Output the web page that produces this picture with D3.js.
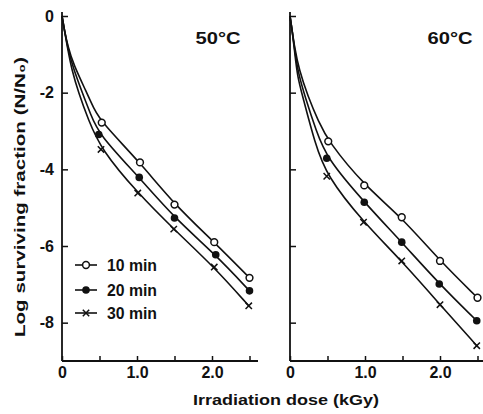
<!DOCTYPE html>
<html>
<head>
<meta charset="utf-8">
<script src="https://cdn.jsdelivr.net/npm/d3@7"></script>
<style>
  html, body { margin: 0; padding: 0; background: #fff; }
  svg { display: block; }
  text { font-family: "Liberation Sans", Arial, sans-serif; font-weight: bold; fill: #111; }
</style>
</head>
<body>
<svg id="chart" width="483" height="414"></svg>
<script>
// ---- data ----
const seriesNames = ["10 min", "20 min", "30 min"];
const panelTitles = ["50\u00B0C", "60\u00B0C"];
const yTicks = [0, -2, -4, -6, -8];
const xTicks = [0, 0.5, 1.0, 1.5, 2.0, 2.5];
const xTickLabels = ["0", "", "1.0", "", "2.0", ""];

// 50 °C markers (dose ×10 kGy, log N/N0)
const dose50_10 = [0.53, 1.04, 1.50, 2.03, 2.50];
const val50_10  = [-2.78, -3.82, -4.92, -5.90, -6.83];
const dose50_20 = [0.49, 1.03, 1.50, 2.05, 2.50];
const val50_20  = [-3.09, -4.21, -5.27, -6.23, -7.17];
const dose50_30 = [0.52, 1.01, 1.49, 2.03, 2.49];
const val50_30  = [-3.48, -4.62, -5.56, -6.55, -7.56];

// 60 °C markers
const dose60_10 = [0.51, 0.99, 1.49, 2.00, 2.50];
const val60_10  = [-3.27, -4.42, -5.25, -6.39, -7.35];
const dose60_20 = [0.49, 0.99, 1.49, 1.99, 2.49];
const val60_20  = [-3.71, -4.86, -5.90, -6.99, -7.95];
const dose60_30 = [0.49, 0.98, 1.49, 2.00, 2.49];
const val60_30  = [-4.18, -5.38, -6.39, -7.53, -8.60];

// initial (shoulder) part of the fitted curves
const knee50_10_d = [0, 0.03, 0.08, 0.15, 0.33, 0.42];
const knee50_10_v = [0, -0.35, -0.80, -1.25, -2.00, -2.40];
const knee50_20_d = [0, 0.03, 0.08, 0.14, 0.27, 0.38];
const knee50_20_v = [0, -0.35, -0.85, -1.30, -2.00, -2.55];
const knee50_30_d = [0, 0.03, 0.08, 0.13, 0.22, 0.35];
const knee50_30_v = [0, -0.35, -0.90, -1.40, -2.00, -2.70];
const knee60_10_d = [0, 0.03, 0.06, 0.12, 0.24, 0.38];
const knee60_10_v = [0, -0.40, -0.80, -1.40, -2.10, -2.75];
const knee60_20_d = [0, 0.03, 0.06, 0.11, 0.20, 0.35];
const knee60_20_v = [0, -0.40, -0.85, -1.50, -2.10, -3.00];
const knee60_30_d = [0, 0.03, 0.06, 0.10, 0.17, 0.33];
const knee60_30_v = [0, -0.40, -0.90, -1.60, -2.10, -3.30];

// ---- build ----
const zip = (a, b) => a.map((d, i) => ({ x: d, y: b[i] }));
const panels = [
  {
    title: panelTitles[0], x0: 62, showY: true, titleX: 218,
    series: [
      { marks: zip(dose50_10, val50_10), knee: zip(knee50_10_d, knee50_10_v), type: "open" },
      { marks: zip(dose50_20, val50_20), knee: zip(knee50_20_d, knee50_20_v), type: "filled" },
      { marks: zip(dose50_30, val50_30), knee: zip(knee50_30_d, knee50_30_v), type: "cross" }
    ],
    axisEnd: 258
  },
  {
    title: panelTitles[1], x0: 290, showY: false, titleX: 450,
    series: [
      { marks: zip(dose60_10, val60_10), knee: zip(knee60_10_d, knee60_10_v), type: "open" },
      { marks: zip(dose60_20, val60_20), knee: zip(knee60_20_d, knee60_20_v), type: "filled" },
      { marks: zip(dose60_30, val60_30), knee: zip(knee60_30_d, knee60_30_v), type: "cross" }
    ],
    axisEnd: 483
  }
];

const svg = d3.select("#chart");
svg.append("rect").attr("width", 483).attr("height", 414).attr("fill", "#fff");

const y = d3.scaleLinear().domain([-9, 0]).range([361, 16]);
const stroke = "#111";
const lw = 1.6;

function drawMarker(g, type, cx, cy) {
  if (type === "open") {
    g.append("circle").attr("cx", cx).attr("cy", cy).attr("r", 3.4)
      .attr("fill", "#fff").attr("stroke", stroke).attr("stroke-width", 1.5);
  } else if (type === "filled") {
    g.append("circle").attr("cx", cx).attr("cy", cy).attr("r", 3.8)
      .attr("fill", stroke);
  } else {
    const s = 3.2;
    g.append("path")
      .attr("d", `M${cx - s},${cy - s}L${cx + s},${cy + s}M${cx - s},${cy + s}L${cx + s},${cy - s}`)
      .attr("stroke", stroke).attr("stroke-width", 1.5).attr("fill", "none");
  }
}

panels.forEach(p => {
  const x = d3.scaleLinear().domain([0, 2.5]).range([p.x0, p.x0 + 187.5]);
  const g = svg.append("g");

  // y axis
  const yAxis = d3.axisLeft(y).tickValues(yTicks).tickSize(-6).tickSizeOuter(0).tickPadding(8)
    .tickFormat(d => p.showY ? (d === 0 ? "0" : "-" + Math.abs(d)) : "");
  const ya = g.append("g").attr("transform", `translate(${p.x0},0)`).call(yAxis);
  ya.select(".domain").remove();
  ya.selectAll("line").attr("stroke", stroke).attr("stroke-width", 1.5);
  ya.selectAll("text").style("font-size", "16px").attr("fill", "#111");
  g.append("line").attr("x1", p.x0).attr("x2", p.x0).attr("y1", 12).attr("y2", y(-9))
    .attr("stroke", stroke).attr("stroke-width", 1.8);

  // x axis
  const xAxis = d3.axisBottom(x).tickValues(xTicks).tickSize(-5).tickSizeOuter(0).tickPadding(6)
    .tickFormat((d, i) => xTickLabels[i]);
  const xa = g.append("g").attr("transform", `translate(0,${y(-9)})`).call(xAxis);
  xa.select(".domain").remove();
  xa.selectAll("line").attr("stroke", stroke).attr("stroke-width", 1.5);
  xa.selectAll("text").style("font-size", "16px").attr("fill", "#111");
  g.append("line").attr("x1", p.x0).attr("x2", p.axisEnd).attr("y1", y(-9)).attr("y2", y(-9))
    .attr("stroke", stroke).attr("stroke-width", 1.8);

  // panel title
  g.append("text").attr("x", p.titleX).attr("y", 44).attr("text-anchor", "middle")
    .style("font-size", "16px").attr("textLength", 45).attr("lengthAdjust", "spacingAndGlyphs")
    .text(p.title);

  // curves
  const line = d3.line().x(d => x(d.x)).y(d => y(d.y)).curve(d3.curveBasis);
  p.series.forEach(s => {
    g.append("path").datum(s.knee.concat(s.marks)).attr("d", line)
      .attr("fill", "none").attr("stroke", stroke).attr("stroke-width", lw);
  });
  p.series.forEach(s => {
    s.marks.forEach(m => drawMarker(g, s.type, x(m.x), y(m.y)));
  });
});

// legend
const legTypes = ["open", "filled", "cross"];
const legY = [265, 290, 313];
const lg = svg.append("g");
seriesNames.forEach((name, i) => {
  lg.append("line").attr("x1", 75).attr("x2", 97).attr("y1", legY[i]).attr("y2", legY[i])
    .attr("stroke", stroke).attr("stroke-width", lw);
  drawMarker(lg, legTypes[i], 86, legY[i]);
  lg.append("text").attr("x", 107).attr("y", legY[i] + 6).style("font-size", "16px")
    .attr("textLength", 50).attr("lengthAdjust", "spacingAndGlyphs").text(name);
});

// axis titles
svg.append("text").attr("x", 286).attr("y", 405).attr("text-anchor", "middle")
  .style("font-size", "15px").attr("textLength", 186).attr("lengthAdjust", "spacingAndGlyphs")
  .text("Irradiation dose (kGy)");
svg.append("text").attr("transform", "translate(25,197) rotate(-90)").attr("text-anchor", "middle")
  .style("font-size", "15px").attr("textLength", 280).attr("lengthAdjust", "spacingAndGlyphs")
  .text("Log surviving fraction (N/N\u2080)");
</script>
</body>
</html>
